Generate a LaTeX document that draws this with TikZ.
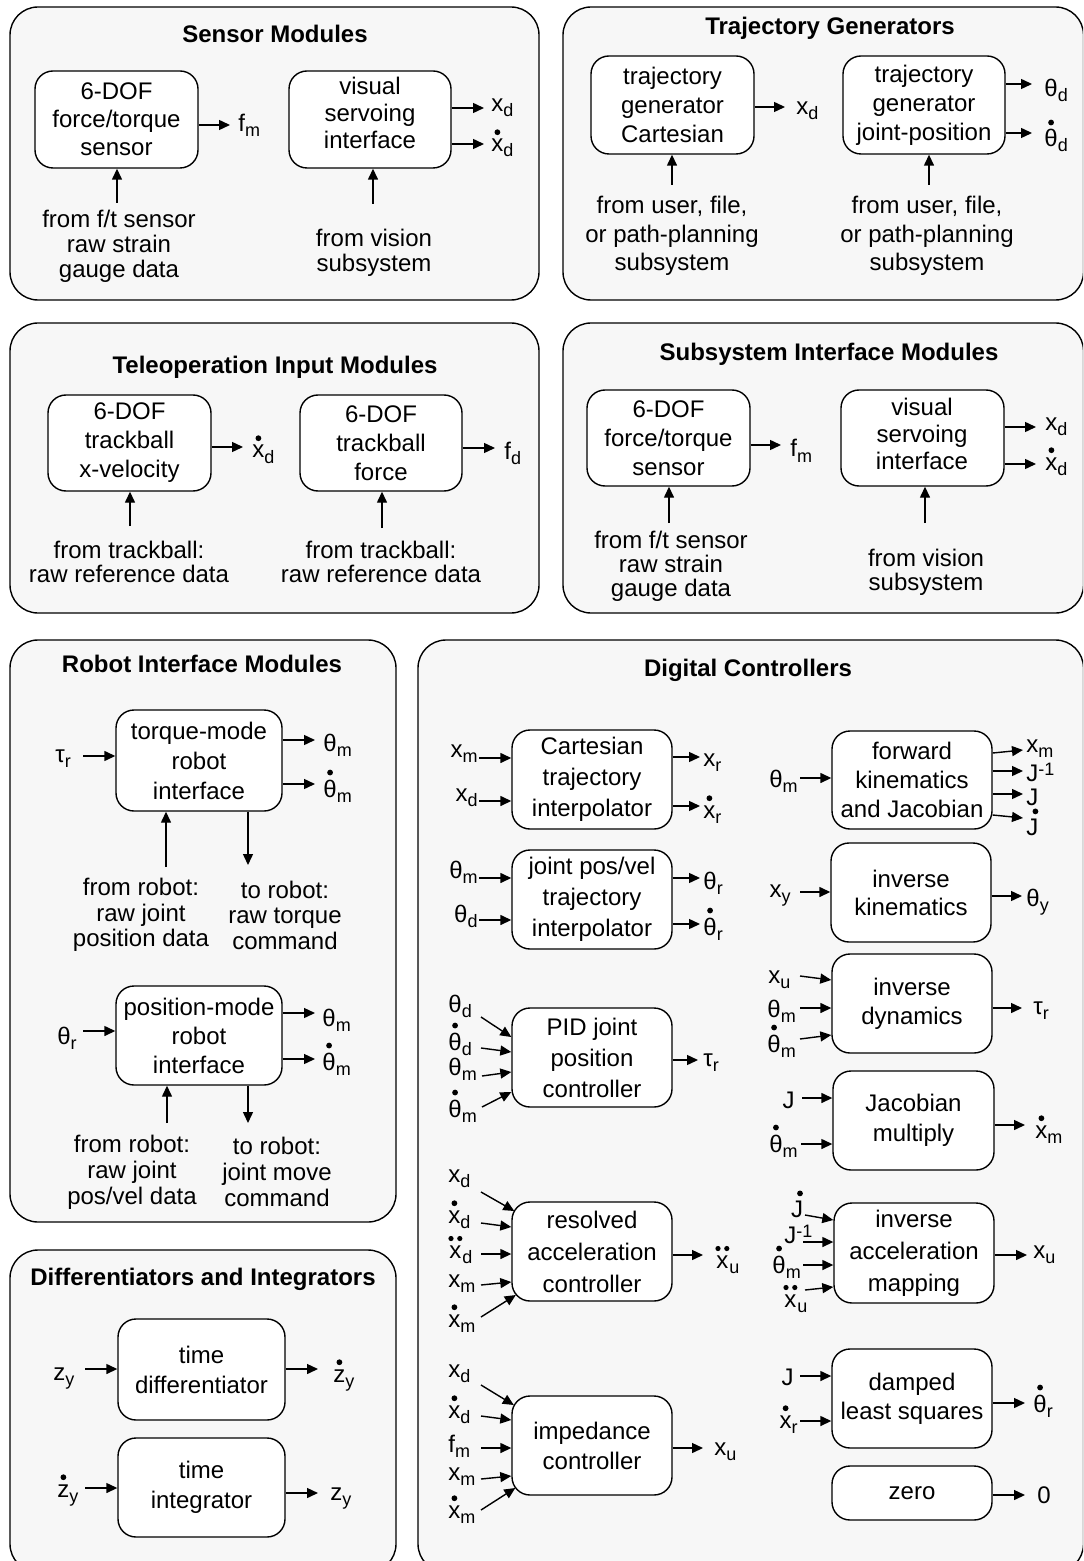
\documentclass[tikz,border=0pt]{standalone}
\usepackage{fontspec}
\setmainfont{Liberation Sans}
\usetikzlibrary{arrows.meta,calc}
\definecolor{panelfill}{HTML}{F7F7F7}

% subscripts, superscripts and time-derivative dots for signal names
\newcommand\sbs[1]{\raisebox{-2.5pt}{\fontsize{9}{9}\selectfont #1}}
\newcommand\spx[1]{\raisebox{3pt}{\fontsize{9}{9}\selectfont #1}}
\newcommand\sigdot[2][0pt]{{\leavevmode\vbox{\offinterlineskip\halign{\hfil##\hfil\cr
  \kern#1\tikz\fill (0,0) circle[radius=1.45pt];\cr\noalign{\kern2.1pt}#2\cr}}}}
\newcommand\sigddot[1]{{\leavevmode\vbox{\offinterlineskip\halign{\hfil##\hfil\cr
  \tikz\fill (0,0) circle[radius=1.3pt] (4.4pt,0) circle[radius=1.3pt];\cr\noalign{\kern2.1pt}#1\cr}}}}

% rounded block given by its corners (in px units): [options]{name}{x1}{y1}{x2}{y2}{text}
\newcommand\blockat[7][]{\node[blk,#1,minimum width={(#5-#3)*0.5pt},minimum height={(#6-#4)*0.5pt}]
  (#2) at ({(#3+#5)/2},{(#4+#6)/2}) {#7};}

\begin{document}
\begin{tikzpicture}[x=0.5pt,y=-0.5pt,
  panel/.style={draw=black,line width=0.7pt,fill=panelfill,rounded corners=14pt},
  blk/.style={draw=black,line width=0.7pt,fill=white,rounded corners=9pt,align=center,
    inner sep=0pt,font=\fontsize{12}{14.5}\selectfont},
  inblk/.style={align=center,inner sep=0pt,font=\fontsize{12}{13.5}\selectfont},
  ttl/.style={inner sep=0pt,font=\fontsize{12}{14}\selectfont\bfseries},
  sig/.style={inner sep=0pt,font=\fontsize{12}{14}\selectfont},
  note/.style={align=center,inner sep=0pt,font=\fontsize{12}{12.5}\selectfont},
  flow/.style={line width=0.7pt,-{Triangle[length=5.5pt,width=5pt]}}]

\useasboundingbox (0,0) rectangle (1083,1561);
\fill[white] (0,0) rectangle (1083,1561);
\clip (0,0) rectangle (1083,1561);

% ---------- group frames
\draw[panel] (10,7) rectangle (539,300);
\draw[panel] (563,7) rectangle (1083.5,300);
\draw[panel] (10,323) rectangle (539,613);
\draw[panel] (563,323) rectangle (1083.5,613);
\draw[panel] (10,640) rectangle (396,1222);
\draw[panel] (10,1250) rectangle (396,1572);
\draw[panel] (418,640) rectangle (1083.5,1572);

% ---------- Sensor Modules
\node[ttl] (sensT) at (275,34) {Sensor Modules};
\blockat[font=\fontsize{12}{14}\selectfont]{fts}{35}{71}{198}{168}{6-DOF\\force/torque\\sensor}
\coordinate (ftsO) at (230,125);
\draw[flow] (fts.east |- ftsO) -- (ftsO);
\node[sig,anchor=base west] (ftsL) at (238,132) {f\sbs{m}};
\node[note] (ftsN) at (119,246) {from f/t sensor\\raw strain\\gauge data};
\coordinate (ftsI) at (117,203);
\draw[flow] (ftsI) -- (fts.south -| ftsI);

\blockat{vsi}{289}{71}{451}{168}{}
\node[inblk] (vsiT) at (370,113) {visual\\servoing\\interface};
\coordinate (vsiA) at (484,108);
\draw[flow] (vsi.east |- vsiA) -- (vsiA);
\node[sig,anchor=base west] (vsiAL) at (491,112) {x\sbs{d}};
\coordinate (vsiB) at (484,144);
\draw[flow] (vsi.east |- vsiB) -- (vsiB);
\node[sig,anchor=base west] (vsiBL) at (491,152) {\sigdot{x}\sbs{d}};
\node[note] (vsiN) at (374,253) {from vision\\subsystem};
\coordinate (vsiI) at (373,204);
\draw[flow] (vsiI) -- (vsi.south -| vsiI);

% ---------- Trajectory Generators
\node[ttl] (trajT) at (830,28) {Trajectory Generators};
\blockat{tgc}{591}{56}{754}{154}{trajectory\\generator\\Cartesian}
\coordinate (tgcO) at (785,107);
\draw[flow] (tgc.east |- tgcO) -- (tgcO);
\node[sig,anchor=base west] (tgcL) at (796,115) {x\sbs{d}};
\node[note,font=\fontsize{12}{14.25}\selectfont] (tgcN) at (672,236) {from user, file,\\or path-planning\\subsystem};
\coordinate (tgcI) at (672,185);
\draw[flow] (tgcI) -- (tgc.south -| tgcI);

\blockat{tgj}{843}{56}{1005}{154}{trajectory\\generator\\joint-position}
\coordinate (tgjA) at (1032,84);
\draw[flow] (tgj.east |- tgjA) -- (tgjA);
\node[sig,anchor=base west] (tgjAL) at (1044,97) {θ\sbs{d}};
\coordinate (tgjB) at (1032,133);
\draw[flow] (tgj.east |- tgjB) -- (tgjB);
\node[sig,anchor=base west] (tgjBL) at (1044,147) {\sigdot{θ}\sbs{d}};
\node[note,font=\fontsize{12}{14.25}\selectfont] (tgjN) at (927,236) {from user, file,\\or path-planning\\subsystem};
\coordinate (tgjI) at (929,185);
\draw[flow] (tgjI) -- (tgj.south -| tgjI);

% ---------- Teleoperation Input Modules
\node[ttl] (teleT) at (275,367) {Teleoperation Input Modules};
\blockat{tbv}{48}{395}{211}{491}{6-DOF\\trackball\\x-velocity}
\coordinate (tbvO) at (243,447);
\draw[flow] (tbv.east |- tbvO) -- (tbvO);
\node[sig,anchor=base west] (tbvL) at (252,458) {\sigdot{x}\sbs{d}};
\node[note,font=\fontsize{12}{12}\selectfont] (tbvN) at (129,562) {from trackball:\\raw reference data};
\coordinate (tbvI) at (130,526);
\draw[flow] (tbvI) -- (tbv.south -| tbvI);

\blockat{tbf}{300}{395}{462}{491}{6-DOF\\trackball\\force}
\coordinate (tbfO) at (495,448);
\draw[flow] (tbf.east |- tbfO) -- (tbfO);
\node[sig,anchor=base west] (tbfL) at (504,459) {f\sbs{d}};
\node[note,font=\fontsize{12}{12}\selectfont] (tbfN) at (381,562) {from trackball:\\raw reference data};
\coordinate (tbfI) at (382,528);
\draw[flow] (tbfI) -- (tbf.south -| tbfI);

% ---------- Subsystem Interface Modules
\node[ttl] (subT) at (829,354) {Subsystem Interface Modules};
\blockat{sft}{587}{390}{750}{486}{6-DOF\\force/torque\\sensor}
\coordinate (sftO) at (781,445);
\draw[flow] (sft.east |- sftO) -- (sftO);
\node[sig,anchor=base west] (sftL) at (790,457) {f\sbs{m}};
\node[note,font=\fontsize{12}{12}\selectfont] (sftN) at (671,566) {from f/t sensor\\raw strain\\gauge data};
\coordinate (sftI) at (669,523);
\draw[flow] (sftI) -- (sft.south -| sftI);

\blockat{svs}{841}{390}{1004}{486}{}
\node[inblk] (svsT) at (922,434) {visual\\servoing\\interface};
\coordinate (svsA) at (1036,427);
\draw[flow] (svs.east |- svsA) -- (svsA);
\node[sig,anchor=base west] (svsAL) at (1045,430) {x\sbs{d}};
\coordinate (svsB) at (1036,464);
\draw[flow] (svs.east |- svsB) -- (svsB);
\node[sig,anchor=base west] (svsBL) at (1045,470) {\sigdot{x}\sbs{d}};
\node[note,font=\fontsize{12}{12}\selectfont] (svsN) at (926,572) {from vision\\subsystem};
\coordinate (svsI) at (925,523);
\draw[flow] (svsI) -- (svs.south -| svsI);

% ---------- Robot Interface Modules
\node[ttl] (robT) at (202,664) {Robot Interface Modules};
\blockat[font=\fontsize{12}{15}\selectfont]{trq}{116}{710}{282}{811}{torque-mode\\robot\\interface}
\coordinate (trqI) at (83,756);
\draw[flow] (trqI) -- (trq.west |- trqI);
\node[sig,anchor=base west] (trqIL) at (55,762) {τ\sbs{r}};
\coordinate (trqA) at (315,740);
\draw[flow] (trq.east |- trqA) -- (trqA);
\node[sig,anchor=base west] (trqAL) at (323,751) {θ\sbs{m}};
\coordinate (trqB) at (315,784);
\draw[flow] (trq.east |- trqB) -- (trqB);
\node[sig,anchor=base west] (trqBL) at (323,797) {\sigdot{θ}\sbs{m}};
\coordinate (trqU) at (166,867);
\draw[flow] (trqU) -- (trq.south -| trqU);
\coordinate (trqD) at (248,865);
\draw[flow] (trq.south -| trqD) -- (trqD);
\node[note,font=\fontsize{12}{12.75}\selectfont] (trqN1) at (141,915) {from robot:\\raw joint\\position data};
\node[note,font=\fontsize{12}{12.75}\selectfont] (trqN2) at (285,915) {to robot:\\raw torque\\command};

\blockat{pos}{116}{986}{282}{1085}{position-mode\\robot\\interface}
\coordinate (posI) at (83,1031);
\draw[flow] (posI) -- (pos.west |- posI);
\node[sig,anchor=base west] (posIL) at (57,1044) {θ\sbs{r}};
\coordinate (posA) at (315,1013);
\draw[flow] (pos.east |- posA) -- (posA);
\node[sig,anchor=base west] (posAL) at (322,1026) {θ\sbs{m}};
\coordinate (posB) at (315,1059);
\draw[flow] (pos.east |- posB) -- (posB);
\node[sig,anchor=base west] (posBL) at (322,1070) {\sigdot{θ}\sbs{m}};
\coordinate (posU) at (167,1123);
\draw[flow] (posU) -- (pos.south -| posU);
\coordinate (posD) at (248,1123);
\draw[flow] (pos.south -| posD) -- (posD);
\node[note,font=\fontsize{12}{13}\selectfont] (posN1) at (132,1172) {from robot:\\raw joint\\pos/vel data};
\node[note,font=\fontsize{12}{13}\selectfont] (posN2) at (277,1172) {to robot:\\joint move\\command};

% ---------- Differentiators and Integrators
\node[ttl] (difT) at (203,1279) {Differentiators and Integrators};
\blockat[font=\fontsize{12}{15}\selectfont]{tdf}{118}{1319}{285}{1420}{time\\differentiator}
\coordinate (tdfI) at (85,1369);
\draw[flow] (tdfI) -- (tdf.west |- tdfI);
\node[sig,anchor=base west] (tdfIL) at (53,1380) {z\sbs{y}};
\coordinate (tdfO) at (318,1369);
\draw[flow] (tdf.east |- tdfO) -- (tdfO);
\node[sig,anchor=base west] (tdfOL) at (333,1382) {\sigdot{z}\sbs{y}};

\blockat[font=\fontsize{12}{15}\selectfont]{tig}{118}{1438}{285}{1537}{time\\integrator}
\coordinate (tigI) at (85,1488);
\draw[flow] (tigI) -- (tig.west |- tigI);
\node[sig,anchor=base west] (tigIL) at (57,1497) {\sigdot{z}\sbs{y}};
\coordinate (tigO) at (318,1493);
\draw[flow] (tig.east |- tigO) -- (tigO);
\node[sig,anchor=base west] (tigOL) at (330,1500) {z\sbs{y}};

% ---------- Digital Controllers
\node[ttl] (digT) at (748,670) {Digital Controllers};

% Cartesian trajectory interpolator
\blockat[font=\fontsize{12}{15.5}\selectfont]{cti}{512}{730}{672}{829}{Cartesian\\trajectory\\interpolator}
\coordinate (ctiA) at (479,758);
\draw[flow] (ctiA) -- (cti.west |- ctiA);
\node[sig,anchor=base east] (ctiAL) at (478,757) {x\sbs{m}};
\coordinate (ctiB) at (479,801);
\draw[flow] (ctiB) -- (cti.west |- ctiB);
\node[sig,anchor=base east] (ctiBL) at (478,801) {x\sbs{d}};
\coordinate (ctiC) at (700,757);
\draw[flow] (cti.east |- ctiC) -- (ctiC);
\node[sig,anchor=base west] (ctiCL) at (703,766) {x\sbs{r}};
\coordinate (ctiD) at (700,806);
\draw[flow] (cti.east |- ctiD) -- (ctiD);
\node[sig,anchor=base west] (ctiDL) at (703,818) {\sigdot{x}\sbs{r}};

% joint trajectory interpolator
\blockat[font=\fontsize{12}{15.5}\selectfont]{jti}{512}{850}{672}{949}{joint pos/vel\\trajectory\\interpolator}
\coordinate (jtiA) at (479,878);
\draw[flow] (jtiA) -- (jti.west |- jtiA);
\node[sig,anchor=base east] (jtiAL) at (478,878) {θ\sbs{m}};
\coordinate (jtiB) at (479,920);
\draw[flow] (jtiB) -- (jti.west |- jtiB);
\node[sig,anchor=base east] (jtiBL) at (478,922) {θ\sbs{d}};
\coordinate (jtiC) at (700,878);
\draw[flow] (jti.east |- jtiC) -- (jtiC);
\node[sig,anchor=base west] (jtiCL) at (703,889) {θ\sbs{r}};
\coordinate (jtiD) at (700,924);
\draw[flow] (jti.east |- jtiD) -- (jtiD);
\node[sig,anchor=base west] (jtiDL) at (703,935) {\sigdot{θ}\sbs{r}};

% PID joint position controller
\blockat[font=\fontsize{12}{15.5}\selectfont]{pid}{512}{1008}{672}{1107}{PID joint\\position\\controller}
\node[sig,anchor=base west] (pidAL) at (448,1012) {θ\sbs{d}};
\node[sig,anchor=base west] (pidBL) at (448,1050) {\sigdot{θ}\sbs{d}};
\node[sig,anchor=base west] (pidCL) at (448,1075) {θ\sbs{m}};
\node[sig,anchor=base west] (pidDL) at (448,1117) {\sigdot{θ}\sbs{m}};
\coordinate (pidA) at (481,1017);
\coordinate (pidB) at (481,1048);
\coordinate (pidC) at (482,1076);
\coordinate (pidD) at (482,1107);
\draw[flow] (pidA) -- (pid.west |- 0,1037);
\draw[flow] (pidB) -- (pid.west |- 0,1052);
\draw[flow] (pidC) -- (pid.west |- 0,1072);
\draw[flow] (pidD) -- (pid.west |- 0,1092);
\coordinate (pidO) at (698,1060);
\draw[flow] (pid.east |- pidO) -- (pidO);
\node[sig,anchor=base west] (pidOL) at (703,1066) {τ\sbs{r}};

% resolved acceleration controller
\blockat[font=\fontsize{12}{16}\selectfont]{rac}{512}{1202}{672}{1301}{resolved\\acceleration\\controller}
\node[sig,anchor=base west] (racAL) at (448,1182) {x\sbs{d}};
\node[sig,anchor=base west] (racBL) at (448,1223) {\sigdot{x}\sbs{d}};
\node[sig,anchor=base west] (racCL) at (448,1258) {\sigddot{x}\sbs{d}};
\node[sig,anchor=base west] (racDL) at (448,1287) {x\sbs{m}};
\node[sig,anchor=base west] (racEL) at (448,1327) {\sigdot{x}\sbs{m}};
\coordinate (racA) at (481,1192);
\coordinate (racB) at (481,1223);
\coordinate (racC) at (481,1254);
\coordinate (racD) at (481,1285);
\coordinate (racE) at (481,1317);
\draw[flow] (racA) -- ($(rac.west |- 0,1211)+(3,0)$);
\draw[flow] (racB) -- (rac.west |- 0,1227);
\draw[flow] (racC) -- (rac.west |- 0,1254);
\draw[flow] (racD) -- (rac.west |- 0,1282);
\draw[flow] (racE) -- ($(rac.west |- 0,1295)+(4.5,0)$);
\coordinate (racO) at (703,1255);
\draw[flow] (rac.east |- racO) -- (racO);
\node[sig,anchor=base west] (racOL) at (715,1268) {\sigddot{x}\sbs{u}};

% impedance controller
\blockat[font=\fontsize{12}{15}\selectfont]{imp}{512}{1396}{672}{1495}{impedance\\controller}
\node[sig,anchor=base west] (impAL) at (448,1377) {x\sbs{d}};
\node[sig,anchor=base west] (impBL) at (448,1418) {\sigdot{x}\sbs{d}};
\node[sig,anchor=base west] (impCL) at (448,1452) {f\sbs{m}};
\node[sig,anchor=base west] (impDL) at (448,1480) {x\sbs{m}};
\node[sig,anchor=base west] (impEL) at (448,1518) {\sigdot{x}\sbs{m}};
\coordinate (impA) at (481,1385);
\coordinate (impB) at (481,1416);
\coordinate (impC) at (481,1448);
\coordinate (impD) at (481,1479);
\coordinate (impE) at (481,1510);
\draw[flow] (impA) -- ($(imp.west |- 0,1405)+(2.5,0)$);
\draw[flow] (impB) -- (imp.west |- 0,1420);
\draw[flow] (impC) -- (imp.west |- 0,1448);
\draw[flow] (impD) -- (imp.west |- 0,1476);
\draw[flow] (impE) -- ($(imp.west |- 0,1488)+(4,0)$);
\coordinate (impO) at (703,1448);
\draw[flow] (imp.east |- impO) -- (impO);
\node[sig,anchor=base west] (impOL) at (714,1455) {x\sbs{u}};

% forward kinematics and Jacobian
\blockat{fwk}{832}{731}{992}{829}{forward\\kinematics\\and Jacobian}
\coordinate (fwkI) at (800,778);
\draw[flow] (fwkI) -- (fwk.west |- fwkI);
\node[sig,anchor=base east] (fwkIL) at (798,787) {θ\sbs{m}};
\coordinate (fwkA) at (1023,750);
\coordinate (fwkB) at (1023,771);
\coordinate (fwkC) at (1023,794);
\coordinate (fwkD) at (1023,818);
\draw[flow] (fwk.east |- 0,753) -- (fwkA);
\draw[flow] (fwk.east |- fwkB) -- (fwkB);
\draw[flow] (fwk.east |- fwkC) -- (fwkC);
\draw[flow] (fwk.east |- 0,815) -- (fwkD);
\node[sig,anchor=base west] (fwkAL) at (1026,752) {x\sbs{m}};
\node[sig,anchor=base west] (fwkBL) at (1026,781) {J\spx{-1}};
\node[sig,anchor=base west] (fwkCL) at (1026,805) {J};
\node[sig,anchor=base west] (fwkDL) at (1026,835) {\sigdot[3pt]{J}};

% inverse kinematics
\blockat[font=\fontsize{12}{14}\selectfont]{ink}{831}{843}{991}{942}{inverse\\kinematics}
\coordinate (inkI) at (800,892);
\draw[flow] (inkI) -- (ink.west |- inkI);
\node[sig,anchor=base east] (inkIL) at (791,897) {x\sbs{y}};
\coordinate (inkO) at (1022,896);
\draw[flow] (ink.east |- inkO) -- (inkO);
\node[sig,anchor=base west] (inkOL) at (1026,906) {θ\sbs{y}};

% inverse dynamics
\blockat{ind}{832}{954}{992}{1053}{inverse\\dynamics}
\node[sig,anchor=base west] (indAL) at (768,983) {x\sbs{u}};
\node[sig,anchor=base west] (indBL) at (767,1017) {θ\sbs{m}};
\node[sig,anchor=base west] (indCL) at (767,1052) {\sigdot{θ}\sbs{m}};
\coordinate (indA) at (800,976);
\coordinate (indB) at (800,1008);
\coordinate (indC) at (800,1039);
\draw[flow] (indA) -- (ind.west |- 0,980);
\draw[flow] (indB) -- (ind.west |- 0,1008);
\draw[flow] (indC) -- (ind.west |- 0,1035);
\coordinate (indO) at (1022,1008);
\draw[flow] (ind.east |- indO) -- (indO);
\node[sig,anchor=base west] (indOL) at (1033,1014) {τ\sbs{r}};

% Jacobian multiply
\blockat[font=\fontsize{12}{15}\selectfont]{jcm}{833}{1071}{994}{1170}{Jacobian\\multiply}
\coordinate (jcmA) at (802,1098);
\draw[flow] (jcmA) -- (jcm.west |- jcmA);
\node[sig,anchor=base east] (jcmAL) at (795,1108) {J};
\coordinate (jcmB) at (801,1144);
\draw[flow] (jcmB) -- (jcm.west |- jcmB);
\node[sig,anchor=base east] (jcmBL) at (798,1152) {\sigdot{θ}\sbs{m}};
\coordinate (jcmO) at (1025,1125);
\draw[flow] (jcm.east |- jcmO) -- (jcmO);
\node[sig,anchor=base west] (jcmOL) at (1035,1138) {\sigdot{x}\sbs{m}};

% inverse acceleration mapping
\blockat[font=\fontsize{12}{16}\selectfont]{iam}{834}{1203}{994}{1303}{inverse\\acceleration\\mapping}
\node[sig,anchor=base] (iamAL) at (797,1217) {\sigdot[3pt]{J}};
\node[sig,anchor=base west] (iamBL) at (784,1243) {J\spx{-1}};
\node[sig,anchor=base west] (iamCL) at (772,1273) {\sigdot{θ}\sbs{m}};
\node[sig,anchor=base west] (iamDL) at (783,1307) {\sigddot{x}\sbs{u}};
\coordinate (iamA) at (805,1215);
\coordinate (iamB) at (803,1242);
\coordinate (iamC) at (803,1265);
\coordinate (iamD) at (805,1290);
\draw[flow] (iamA) -- (iam.west |- 0,1220);
\draw[flow] (iamB) -- (iam.west |- 0,1242);
\draw[flow] (iamC) -- (iam.west |- 0,1265);
\draw[flow] (iamD) -- (iam.west |- 0,1287);
\coordinate (iamO) at (1027,1255);
\draw[flow] (iam.east |- iamO) -- (iamO);
\node[sig,anchor=base west] (iamOL) at (1033,1258) {x\sbs{u}};

% damped least squares
\blockat{dls}{832}{1349}{992}{1448}{damped\\least squares}
\coordinate (dlsA) at (800,1376);
\draw[flow] (dlsA) -- (dls.west |- dlsA);
\node[sig,anchor=base east] (dlsAL) at (794,1385) {J};
\coordinate (dlsB) at (800,1421);
\draw[flow] (dlsB) -- (dls.west |- dlsB);
\node[sig,anchor=base east] (dlsBL) at (798,1428) {\sigdot{x}\sbs{r}};
\coordinate (dlsO) at (1025,1403);
\draw[flow] (dls.east |- dlsO) -- (dlsO);
\node[sig,anchor=base west] (dlsOL) at (1033,1412) {\sigdot{θ}\sbs{r}};

% zero source
\blockat{zro}{832}{1466}{992}{1520}{zero}
\coordinate (zroO) at (1025,1495);
\draw[flow] (zro.east |- zroO) -- (zroO);
\node[sig,anchor=base west] (zroL) at (1037,1503) {0};

\end{tikzpicture}
\end{document}
